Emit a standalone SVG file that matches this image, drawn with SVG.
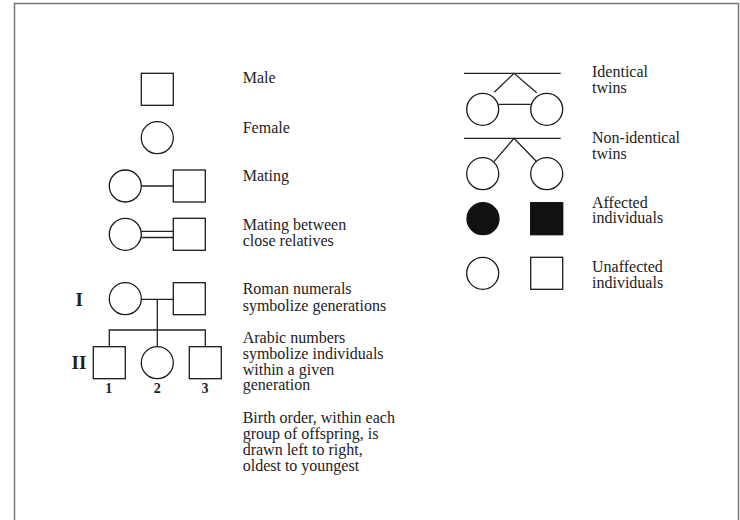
<svg xmlns="http://www.w3.org/2000/svg" width="740" height="520" viewBox="0 0 740 520">
<style>
.s{fill:#fff;stroke:#1a1a1a;stroke-width:1.3}
.f{fill:#111;stroke:#111;stroke-width:1.3}
.l{fill:none;stroke:#222;stroke-width:1.3}
.t{font-family:"Liberation Serif","Times New Roman",serif;font-size:16px;fill:#222}
.b{font-family:"Liberation Serif","Times New Roman",serif;font-weight:bold;fill:#222;text-anchor:middle}
</style>
<rect width="740" height="520" fill="#fff"/>
<path d="M14.5,525 V3.5 H738.5 V525" fill="none" stroke="#777" stroke-width="1.5"/>
<g id="connectors">
<line class="l" x1="141.3" y1="186" x2="173.3" y2="186"/>
<line class="l" x1="141.3" y1="231.3" x2="173.3" y2="231.3"/>
<line class="l" x1="141.3" y1="237.5" x2="173.3" y2="237.5"/>
<line class="l" x1="141.3" y1="299.3" x2="173.3" y2="299.3"/>
<line class="l" x1="157.3" y1="299.3" x2="157.3" y2="346.7"/>
<polyline class="l" points="109.3,346.7 109.3,330 205.3,330 205.3,346.7"/>
<line class="l" x1="464" y1="73.3" x2="560.7" y2="73.3"/>
<polyline class="l" points="494.3,92.3 514,73.3 536.7,92.7"/>
<line class="l" x1="498.7" y1="104.3" x2="530.7" y2="104.3"/>
<line class="l" x1="464" y1="138.3" x2="560.7" y2="138.3"/>
<polyline class="l" points="494,161.7 514,138.3 536.7,161.7"/>
</g>
<g id="male"><rect class="s" x="141.3" y="73.3" width="32" height="32"/></g>
<g id="female"><circle class="s" cx="157.3" cy="137.7" r="16"/></g>
<g id="mating"><circle class="s" cx="125.3" cy="186" r="16"/><rect class="s" x="173.3" y="170" width="32" height="32"/></g>
<g id="close-mating"><circle class="s" cx="125.3" cy="234.3" r="16"/><rect class="s" x="173.3" y="218.3" width="32" height="32"/></g>
<g id="gen-I"><circle class="s" cx="125.3" cy="298.7" r="16"/><rect class="s" x="173.3" y="282.7" width="32" height="32"/></g>
<g id="child-1"><rect class="s" x="93.3" y="346.7" width="32" height="32"/></g>
<g id="child-2"><circle class="s" cx="157.3" cy="362.7" r="16"/></g>
<g id="child-3"><rect class="s" x="189.3" y="346.7" width="32" height="32"/></g>
<g id="identical-twins"><circle class="s" cx="482.7" cy="109.3" r="16"/><circle class="s" cx="546.7" cy="109.3" r="16"/></g>
<g id="nonidentical-twins"><circle class="s" cx="482.7" cy="173.7" r="16"/><circle class="s" cx="546.7" cy="173.7" r="16"/></g>
<g id="affected"><circle class="f" cx="483" cy="218.7" r="16"/><rect class="f" x="530.7" y="202.7" width="32" height="32"/></g>
<g id="unaffected"><circle class="s" cx="482.7" cy="273.3" r="16"/><rect class="s" x="530.7" y="257.3" width="32" height="32"/></g>
<g id="labels">
<text class="b" x="79.3" y="306" font-size="19">I</text>
<text class="b" x="79" y="369.3" font-size="19">II</text>
<text class="b" x="108.7" y="393.3" font-size="14">1</text>
<text class="b" x="157.3" y="393.3" font-size="14">2</text>
<text class="b" x="205" y="393.3" font-size="14">3</text>
<text class="t" x="242.7" y="83.3">Male</text>
<text class="t" x="242.7" y="132.7">Female</text>
<text class="t" x="242.7" y="180.7">Mating</text>
<text class="t" x="242.7" y="230">Mating between</text>
<text class="t" x="242.7" y="245.5">close relatives</text>
<text class="t" x="242.7" y="294.3">Roman numerals</text>
<text class="t" x="242.7" y="310.5">symbolize generations</text>
<text class="t" x="242.7" y="342.7">Arabic numbers</text>
<text class="t" x="242.7" y="358.7">symbolize individuals</text>
<text class="t" x="242.7" y="374.7">within a given</text>
<text class="t" x="242.7" y="390.3">generation</text>
<text class="t" x="242.7" y="423.3">Birth order, within each</text>
<text class="t" x="242.7" y="439.3">group of offspring, is</text>
<text class="t" x="242.7" y="455">drawn left to right,</text>
<text class="t" x="242.7" y="471">oldest to youngest</text>
<text class="t" x="592" y="77.3">Identical</text>
<text class="t" x="592" y="93.3">twins</text>
<text class="t" x="592" y="143.3">Non-identical</text>
<text class="t" x="592" y="159.3">twins</text>
<text class="t" x="592" y="207.7">Affected</text>
<text class="t" x="592" y="223">individuals</text>
<text class="t" x="592" y="271.7">Unaffected</text>
<text class="t" x="592" y="287.7">individuals</text>
</g>
</svg>
